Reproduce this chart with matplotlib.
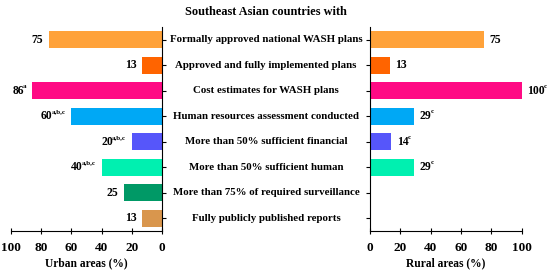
import matplotlib
matplotlib.use("Agg")
import matplotlib.pyplot as plt

plt.rcParams['font.family'] = ['Liberation Serif', 'DejaVu Serif']
plt.rcParams['font.weight'] = 'bold'

categories = [
    "Formally approved national WASH plans",
    "Approved and fully implemented plans",
    "Cost estimates for WASH plans",
    "Human resources assessment conducted",
    "More than 50% sufficient financial",
    "More than 50% sufficient human",
    "More than 75% of required surveillance",
    "Fully publicly published reports",
]
urban = [75, 13, 86, 60, 20, 40, 25, 13]
urban_sup = ["", "", "a", "a,b,c", "a,b,c", "a,b,c", "", ""]
rural = [75, 13, 100, 29, 14, 29, 0, 0]
rural_sup = ["", "", "c", "c", "c", "c", "", ""]
colors = ["#FFA23A", "#FF6400", "#FF0A84", "#00A8F5", "#5656FA",
          "#00F0B0", "#009966", "#D9964D"]
ticks = [0, 20, 40, 60, 80, 100]

fig = plt.figure(figsize=(5.5, 2.76), dpi=100)
axL = fig.add_axes([11/550, 1-231/276, 151/550, (231-27)/276])
axR = fig.add_axes([370/550, 1-231/276, 151.5/550, (231-27)/276])

ypos = list(range(len(categories)))
FS = 7.8
VFS = 8.4
SFS = 5.0
TFS = 9.5
renderer = fig.canvas.get_renderer()

def width_pt(t):
    bb = t.get_window_extent(renderer=renderer)
    return bb.width * 72.0 / fig.dpi

# Left (urban)
axL.barh(ypos, urban, height=0.66, color=colors)
axL.set_xlim(100, 0)
axL.set_ylim(len(categories) - 0.5, -0.5)
for sp in ['top', 'left']:
    axL.spines[sp].set_visible(False)
axL.yaxis.tick_right()
axL.set_yticks(ypos)
axL.set_yticklabels([])
axL.tick_params(axis='y', direction='out', length=3, width=0.8)
for i, (v, s) in enumerate(zip(urban, urban_sup)):
    off = 0.0
    if s:
        st = axL.annotate(s, (v, i), xytext=(-4, 1.5), textcoords='offset points',
                          ha='right', va='bottom', fontsize=SFS, fontweight='bold')
        off = width_pt(st) - 0.6
    axL.annotate(str(v), (v, i), xytext=(-4 - off, 0), textcoords='offset points',
                 ha='right', va='center', fontsize=VFS, fontweight='bold')
axL.set_xticks(ticks)
axL.tick_params(axis='x', direction='inout', length=4, width=0.8, labelsize=TFS, pad=6)
axL.set_xlabel("Urban areas (%)", fontsize=8.3, fontweight='bold', labelpad=2)

# Right (rural)
axR.barh(ypos, rural, height=0.66, color=colors)
axR.set_xlim(0, 100)
axR.set_ylim(len(categories) - 0.5, -0.5)
for sp in ['top', 'right']:
    axR.spines[sp].set_visible(False)
axR.set_yticks(ypos)
axR.set_yticklabels([])
axR.tick_params(axis='y', direction='out', length=3, width=0.8)
for i, (v, s) in enumerate(zip(rural, rural_sup)):
    if v > 0:
        nt = axR.annotate(str(v), (v, i), xytext=(4, 0), textcoords='offset points',
                          ha='left', va='center', fontsize=VFS, fontweight='bold')
        if s:
            off = width_pt(nt) - 0.6
            axR.annotate(s, (v, i), xytext=(4 + off, 1.5), textcoords='offset points',
                         ha='left', va='bottom', fontsize=SFS, fontweight='bold')
axR.set_xticks(ticks)
axR.tick_params(axis='x', direction='inout', length=4, width=0.8, labelsize=TFS, pad=6)
axR.set_xlabel("Rural areas (%)", fontsize=8.3, fontweight='bold', labelpad=2)

# Category labels centered between axes
for i, c in enumerate(categories):
    y_disp = axL.transData.transform((0, i))[1]
    yf = fig.transFigure.inverted().transform((0, y_disp))[1]
    fig.text(266/550, yf, c, ha='center', va='center', fontsize=FS, fontweight='bold')

fig.text(266/550, 1-12/276, "Southeast Asian countries with", ha='center', va='center',
         fontsize=8.8, fontweight='bold')

fig.savefig("out.png", dpi=100)
